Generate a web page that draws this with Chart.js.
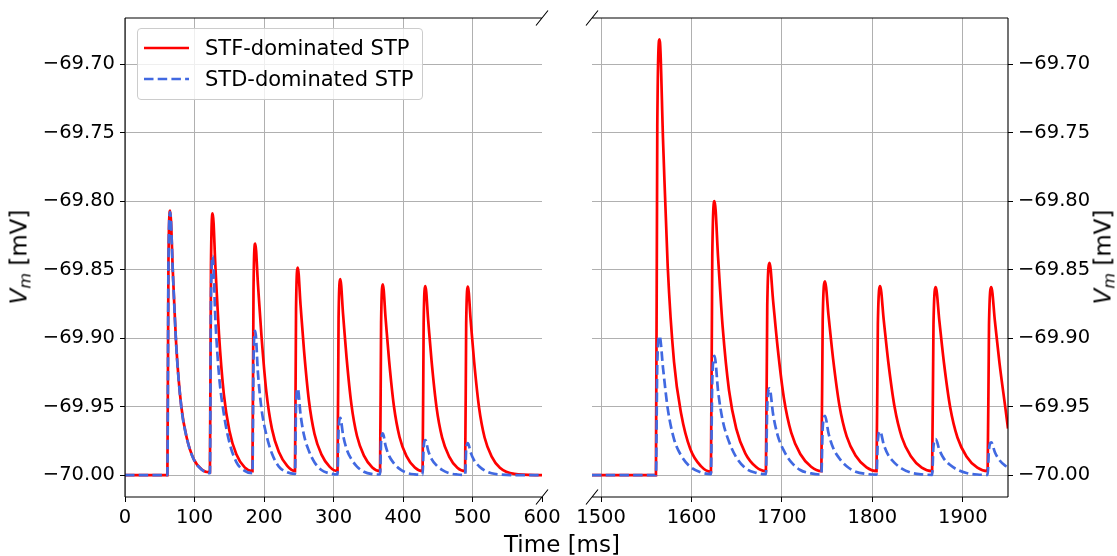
<!DOCTYPE html>
<html>
<head>
<meta charset="utf-8">
<script src="https://cdn.jsdelivr.net/npm/chart.js@4.4.1/dist/chart.umd.min.js"></script>
<style>
  body { margin: 0; background: #fff; width: 1117px; height: 556px; position: relative; overflow: hidden; font-family: "DejaVu Sans", sans-serif; color: #000; }
  canvas { position: absolute; top: 0; }
  #leftChart { left: 0; }
  #rightChart { left: 520px; }
  .axis-label { position: absolute; font-size: 23px; white-space: nowrap; transform: translate(-50%, -50%) rotate(-90deg); }
  .axis-label i { font-style: italic; }
  .axis-label sub { font-size: 70%; font-style: italic; vertical-align: -0.25em; }
  #xlabel { position: absolute; left: 562px; top: 544px; font-size: 23px; white-space: nowrap; transform: translate(-50%, -50%); }
  #legend { position: absolute; left: 137px; top: 28px; width: 284px; height: 70px; border: 1px solid #cccccc; border-radius: 4px; background: rgba(255,255,255,0.8); }
  .legend-item { position: absolute; left: 6px; height: 26px; display: flex; align-items: center; font-size: 21px; white-space: nowrap; }
  .legend-item svg { margin-right: 16px; }
</style>
</head>
<body>
<canvas id="leftChart" width="600" height="556"></canvas>
<canvas id="rightChart" width="597" height="556"></canvas>
<div class="axis-label" style="left:20px; top:257px;"><i>V</i><sub>m</sub> [mV]</div>
<div class="axis-label" style="left:1104px; top:257px;"><i>V</i><sub>m</sub> [mV]</div>
<div id="xlabel">Time [ms]</div>
<div id="legend"></div>
<script>
// series names + colours
var seriesNames = ["STF-dominated STP", "STD-dominated STP"];
var seriesColors = ["#ff0000", "#4169e1"];

// axis limits and ticks
var leftRange = [0, 600];
var rightRange = [1490, 1950];
var vRange = [-70.0159, -69.6664];
var leftTicks = [0, 100, 200, 300, 400, 500, 600];
var rightTicks = [1500, 1600, 1700, 1800, 1900];
var vTicks = [-70.0, -69.95, -69.9, -69.85, -69.8, -69.75, -69.7];

// first spike train (0 - 600 ms)
var leftTime = [0,
  61, 62.5, 65, 69, 74, 81, 89, 99, 111,
  122.2, 123.7, 126.2, 130.2, 135.2, 142.2, 150.2, 160.2, 172.2,
  183.4, 184.9, 187.4, 191.4, 196.4, 203.4, 211.4, 221.4, 233.4,
  244.6, 246.1, 248.6, 252.6, 257.6, 264.6, 272.6, 282.6, 294.6,
  305.8, 307.3, 309.8, 313.8, 318.8, 325.8, 333.8, 343.8, 355.8,
  367, 368.5, 371, 375, 380, 387, 395, 405, 417,
  428.2, 429.7, 432.2, 436.2, 441.2, 448.2, 456.2, 466.2, 478.2,
  489.4, 490.9, 493.4, 497.4, 502.4, 509.4, 517.4, 527.4, 539.4,
  560, 600];
var stfLeft = [-70.0,
  -70.0, -69.8456, -69.807, -69.8533, -69.9074, -69.9498, -69.973, -69.9884, -69.9961,
  -69.998, -69.8472, -69.809, -69.8491, -69.8969, -69.9408, -69.9675, -69.9847, -69.9943,
  -69.997, -69.8648, -69.831, -69.8614, -69.8986, -69.9392, -69.9662, -69.9831, -69.9932,
  -69.997, -69.8788, -69.8485, -69.8758, -69.9091, -69.9455, -69.9697, -69.9848, -69.9939,
  -69.997, -69.8856, -69.857, -69.8827, -69.9142, -69.9485, -69.9714, -69.9857, -69.9943,
  -69.997, -69.8886, -69.8607, -69.8858, -69.9164, -69.9499, -69.9721, -69.9861, -69.9944,
  -69.997, -69.8896, -69.862, -69.8868, -69.9172, -69.9503, -69.9724, -69.9862, -69.9945,
  -69.997, -69.8899, -69.8624, -69.8872, -69.9174, -69.9505, -69.9725, -69.9862, -69.9945,
  -69.999, -70.0];
var stdLeft = [-70.0,
  -70.0, -69.8464, -69.808, -69.8541, -69.9078, -69.9501, -69.9731, -69.9885, -69.9962,
  -69.9985, -69.872, -69.84, -69.888, -69.9264, -69.9552, -69.976, -69.9904, -69.9968,
  -69.9985, -69.9158, -69.8947, -69.9263, -69.9516, -69.9705, -69.9842, -69.9937, -69.9979,
  -69.999, -69.9494, -69.9367, -69.9557, -69.9709, -69.9823, -69.9905, -69.9962, -69.9987,
  -69.9995, -69.9666, -69.9582, -69.9707, -69.9808, -69.9883, -69.9937, -69.9975, -69.9992,
  -69.9995, -69.9755, -69.9694, -69.9786, -69.9859, -69.9914, -69.9954, -69.9982, -69.9994,
  -69.9997, -69.9794, -69.9743, -69.982, -69.9882, -69.9928, -69.9961, -69.9985, -69.9995,
  -69.9997, -69.9812, -69.9765, -69.9835, -69.9892, -69.9934, -69.9965, -69.9986, -69.9995,
  -70.0, -70.0];

// second spike train (1490 - 1950 ms)
var rightTime = [1490,
  1560.7, 1562.2, 1564.7, 1568.7, 1573.7, 1580.7, 1588.7, 1598.7, 1610.7,
  1621.5, 1623, 1625.5, 1629.5, 1634.5, 1641.5, 1649.5, 1659.5, 1671.5,
  1682.3, 1683.8, 1686.3, 1690.3, 1695.3, 1702.3, 1710.3, 1720.3, 1732.3,
  1743.6, 1745.1, 1747.6, 1751.6, 1756.6, 1763.6, 1771.6, 1781.6, 1793.6,
  1804.6, 1806.1, 1808.6, 1812.6, 1817.6, 1824.6, 1832.6, 1842.6, 1854.6,
  1866.1, 1867.6, 1870.1, 1874.1, 1879.1, 1886.1, 1894.1, 1904.1, 1916.1,
  1927.5, 1929, 1931.5, 1935.5, 1940.5, 1947.5, 1950];
var stfRight = [-70.0,
  -70.0, -69.7456, -69.682, -69.7583, -69.8474, -69.9173, -69.9555, -69.9809, -69.9936,
  -69.9975, -69.84, -69.8, -69.842, -69.892, -69.938, -69.966, -69.984, -69.994,
  -69.997, -69.876, -69.845, -69.8729, -69.907, -69.9442, -69.969, -69.9845, -69.9938,
  -69.997, -69.8868, -69.8585, -69.884, -69.9151, -69.9491, -69.9717, -69.9858, -69.9943,
  -69.997, -69.8896, -69.862, -69.8868, -69.9172, -69.9503, -69.9724, -69.9862, -69.9945,
  -69.997, -69.8902, -69.8627, -69.8874, -69.9176, -69.9506, -69.9725, -69.9863, -69.9945,
  -69.997, -69.8902, -69.8627, -69.8874, -69.9176, -69.953, -69.966];
var stdRight = [-70.0,
  -70.0, -69.9187, -69.8984, -69.9228, -69.9512, -69.9736, -69.9858, -69.9939, -69.998,
  -69.9992, -69.9304, -69.913, -69.9391, -69.96, -69.9756, -69.9869, -69.9948, -69.9983,
  -69.9993, -69.9494, -69.9367, -69.9557, -69.9709, -69.9823, -69.9905, -69.9962, -69.9987,
  -69.9995, -69.9653, -69.9566, -69.9696, -69.98, -69.9878, -69.9935, -69.9974, -69.9991,
  -69.9996, -69.9744, -69.968, -69.9776, -69.9853, -69.991, -69.9952, -69.9981, -69.9994,
  -69.9997, -69.9789, -69.9736, -69.9815, -69.9879, -69.9926, -69.996, -69.9984, -69.9995,
  -69.9997, -69.9808, -69.976, -69.9832, -69.989, -69.9933, -69.9942];

function toPoints(t, v) {
  return t.map(function (x, i) { return { x: x, y: v[i] }; });
}

// spines + the little "//" marks of the broken x axis
var frame = {
  id: "frame",
  afterDraw: function (chart, args, opts) {
    var a = chart.chartArea, ctx = chart.ctx;
    ctx.save();
    ctx.strokeStyle = "#000";
    ctx.lineWidth = 1.1;
    ctx.beginPath();
    ctx.moveTo(a.left, a.top); ctx.lineTo(a.right, a.top);
    ctx.moveTo(a.left, a.bottom); ctx.lineTo(a.right, a.bottom);
    var sx = opts.side === "left" ? a.left : a.right;
    ctx.moveTo(sx, a.top); ctx.lineTo(sx, a.bottom);
    var bx = opts.side === "left" ? a.right : a.left;
    [a.top, a.bottom].forEach(function (y) {
      ctx.moveTo(bx - 6, y + 7.5);
      ctx.lineTo(bx + 6, y - 7.5);
    });
    ctx.stroke();
    ctx.restore();
  }
};

var tickFont = { family: "DejaVu Sans", size: 19.5 };

function makeChart(id, time, stf, std, range, ticks, side) {
  return new Chart(document.getElementById(id), {
    type: "line",
    data: {
      datasets: [
        { label: seriesNames[0], data: toPoints(time, stf), borderColor: seriesColors[0], borderWidth: 2.7, order: 1 },
        { label: seriesNames[1], data: toPoints(time, std), borderColor: seriesColors[1], borderWidth: 2.7, borderDash: [9.5, 4.2], order: 0 }
      ]
    },
    options: {
      responsive: false,
      animation: false,
      events: [],
      elements: { point: { radius: 0 }, line: { cubicInterpolationMode: "monotone" } },
      layout: { padding: side === "left" ? { top: 18, right: 58, left: 0, bottom: 0 } : { top: 18, left: 72, right: 0, bottom: 0 } },
      plugins: { legend: { display: false }, tooltip: { enabled: false }, frame: { side: side } },
      scales: {
        x: {
          type: "linear",
          min: range[0],
          max: range[1],
          afterBuildTicks: function (s) { s.ticks = ticks.map(function (v) { return { value: v }; }); },
          afterFit: function (s) { s.height = 59; },
          border: { display: false },
          grid: {
            color: function (c) { return c.tick && c.tick.value === range[1] ? "rgba(0,0,0,0)" : "#b0b0b0"; },
            lineWidth: 1, tickColor: "#000", tickLength: 5
          },
          ticks: {
            color: "#000", font: tickFont, padding: 4, maxRotation: 0, autoSkip: false,
            callback: function (v) { return String(v); }
          }
        },
        y: {
          type: "linear",
          position: side,
          min: vRange[0],
          max: vRange[1],
          afterBuildTicks: function (s) { s.ticks = vTicks.map(function (v) { return { value: v }; }); },
          afterFit: function (s) { s.width = side === "left" ? 125 : 109; },
          border: { display: false },
          grid: { color: "#b0b0b0", lineWidth: 1, tickColor: "#000", tickLength: 5 },
          ticks: {
            color: "#000", font: tickFont, padding: 5, autoSkip: false,
            callback: function (v) { return "\u2212" + Math.abs(v).toFixed(2); }
          }
        }
      }
    },
    plugins: [frame]
  });
}

makeChart("leftChart", leftTime, stfLeft, stdLeft, leftRange, leftTicks, "left");
makeChart("rightChart", rightTime, stfRight, stdRight, rightRange, rightTicks, "right");

// html legend, like the original box in the upper left corner
var legend = document.getElementById("legend");
seriesNames.forEach(function (name, i) {
  var item = document.createElement("div");
  item.className = "legend-item";
  item.style.top = (i === 0 ? 5.5 : 37) + "px";
  var dash = i === 1 ? ' stroke-dasharray="9.5 4.2"' : "";
  item.innerHTML =
    '<svg width="45" height="10"><line x1="0" y1="5" x2="45" y2="5" stroke="' + seriesColors[i] +
    '" stroke-width="2.7"' + dash + '/></svg><span>' + name + "</span>";
  legend.appendChild(item);
});
</script>
</body>
</html>
